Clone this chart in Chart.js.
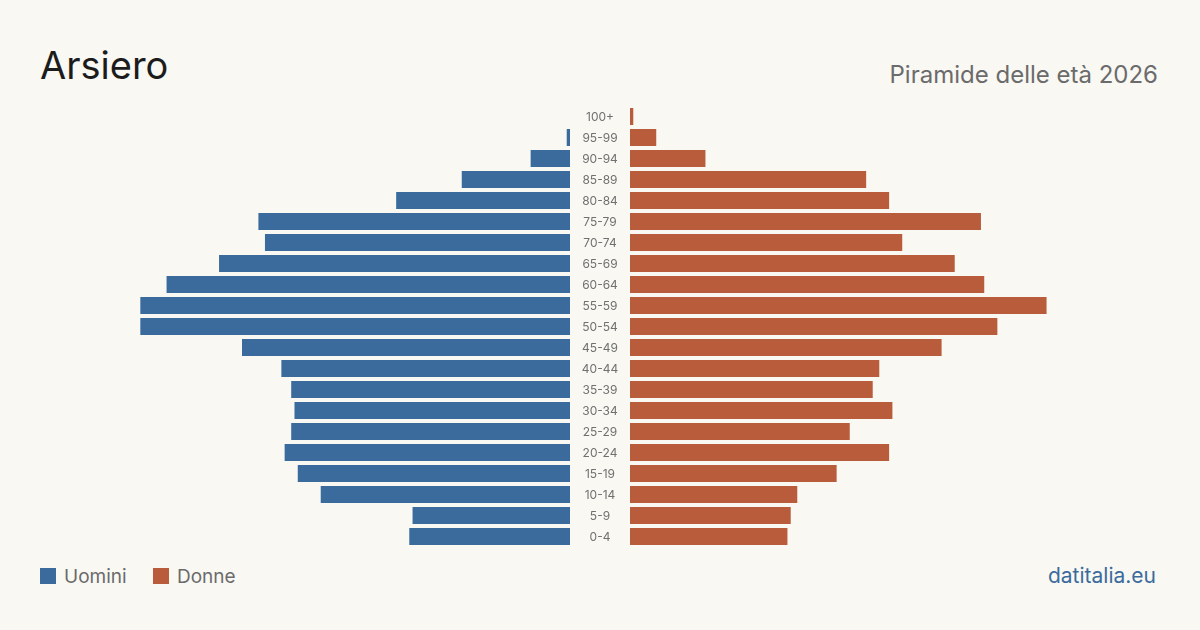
<!DOCTYPE html>
<html lang="it">
<head>
  <meta charset="UTF-8">
  <title>Arsiero - Piramide delle età 2026</title>
  <script src="https://cdn.jsdelivr.net/npm/chart.js"></script>
  <style>
    body { margin: 0; background: #f9f8f3; font-family: Inter, "Noto Sans", sans-serif; }
    #page { position: relative; width: 1200px; height: 630px; overflow: hidden; }
    #title { position: absolute; left: 40px; top: 46px; font-size: 38px; color: #1c1c1c; line-height: 1; }
    #subtitle { position: absolute; right: 42px; top: 63px; font-size: 24px; color: #6b6b6b; line-height: 1; }
    #left { position: absolute; left: 78px; top: 106px; }
    #right { position: absolute; left: 570px; top: 106px; }
    .legend { position: absolute; top: 567px; font-size: 19px; color: #6b6b6b; line-height: 20px; }
    .legend span.sw { display: inline-block; width: 16px; height: 16px; vertical-align: -1px; margin-right: 8px; }
    #source { position: absolute; right: 44px; top: 566px; font-size: 21px; color: #3b6b9c; line-height: 20px; }
  </style>
</head>
<body>
  <div id="page">
    <div id="title">Arsiero</div>
    <div id="subtitle">Piramide delle età 2026</div>
    <canvas id="left" width="492" height="441"></canvas>
    <canvas id="right" width="552" height="441"></canvas>
    <div class="legend" style="left:40px"><span class="sw" style="background:#3b6b9c"></span>Uomini</div>
    <div class="legend" style="left:153px"><span class="sw" style="background:#b95c3c"></span>Donne</div>
    <div id="source">datitalia.eu</div>
  </div>

  <script>
    // fasce d'età, dalla più anziana alla più giovane
    const ages = ["100+", "95-99", "90-94", "85-89", "80-84", "75-79", "70-74", "65-69", "60-64", "55-59",
      "50-54", "45-49", "40-44", "35-39", "30-34", "25-29", "20-24", "15-19", "10-14", "5-9", "0-4"];
    const men = [0, 1, 12, 33, 53, 95, 93, 107, 123, 131, 131, 100, 88, 85, 84, 85, 87, 83, 76, 48, 49];
    const women = [1, 8, 23, 72, 79, 107, 83, 99, 108, 127, 112, 95, 76, 74, 80, 67, 79, 63, 51, 49, 48];

    const blue = "#3b6b9c";
    const red = "#b95c3c";
    const xMax = 150;

    // etichette delle fasce nella colonna centrale
    const ageLabels = {
      id: "ageLabels",
      afterDraw(chart) {
        const ctx = chart.ctx;
        const y = chart.scales.y;
        ctx.save();
        ctx.fillStyle = "#707070";
        ctx.font = "12px Inter, 'Noto Sans', sans-serif";
        ctx.textAlign = "center";
        ctx.textBaseline = "middle";
        ages.forEach((a, i) => ctx.fillText(a, chart.chartArea.left - 30, y.getPixelForValue(i) + 0.5));
        ctx.restore();
      }
    };

    function barOpts(reverse, padLeft) {
      return {
        responsive: false,
        animation: false,
        indexAxis: "y",
        layout: { padding: { left: padLeft, right: 0, top: 0, bottom: 0 } },
        plugins: { legend: { display: false }, tooltip: { enabled: false } },
        scales: {
          x: { display: false, min: 0, max: xMax, reverse: reverse },
          y: { display: false }
        }
      };
    }

    new Chart(document.getElementById("left"), {
      type: "bar",
      data: {
        labels: ages,
        datasets: [{ label: "Uomini", data: men, backgroundColor: blue, barPercentage: 1, categoryPercentage: 17 / 21 }]
      },
      options: barOpts(true, 0)
    });

    new Chart(document.getElementById("right"), {
      type: "bar",
      data: {
        labels: ages,
        datasets: [{ label: "Donne", data: women, backgroundColor: red, barPercentage: 1, categoryPercentage: 17 / 21 }]
      },
      options: barOpts(false, 60),
      plugins: [ageLabels]
    });
  </script>
</body>
</html>
